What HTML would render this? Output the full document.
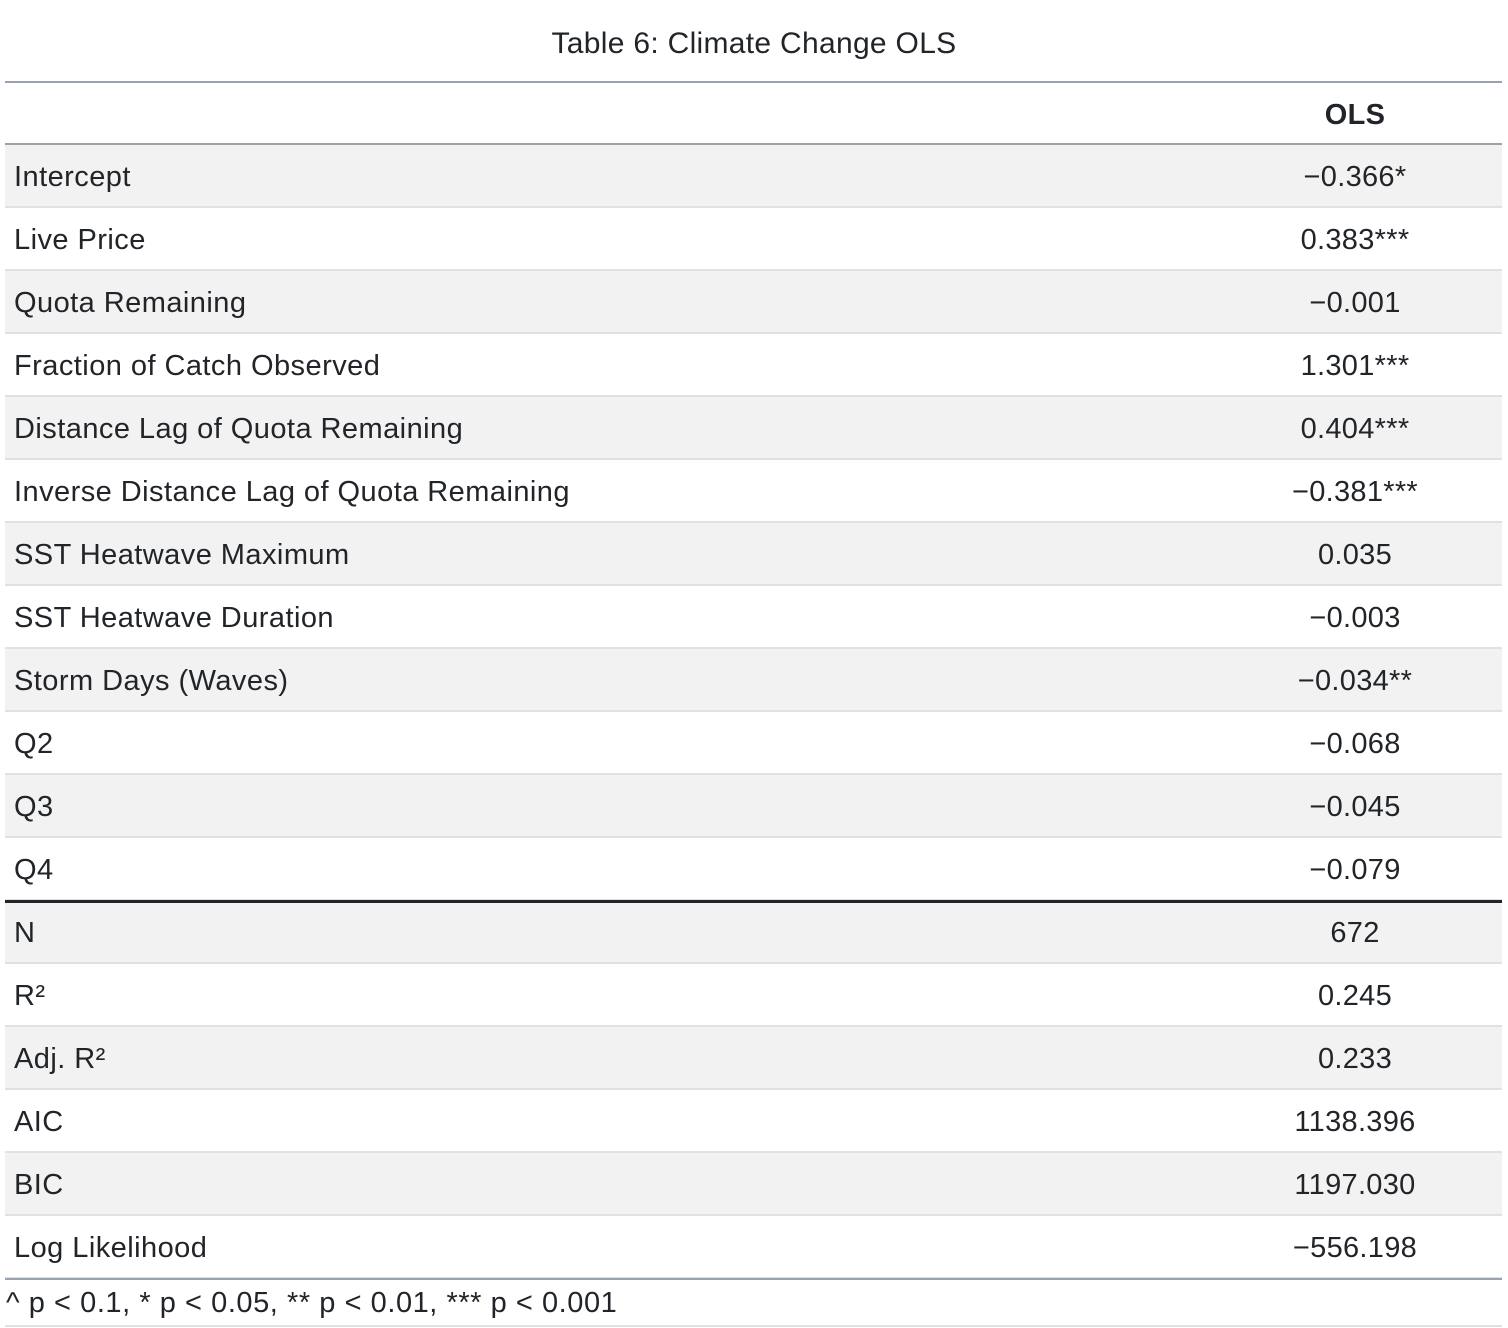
<!DOCTYPE html>
<html><head><meta charset="utf-8"><style>
body{margin:0;width:1508px;height:1328px;background:#fff;font-family:"Liberation Sans",sans-serif;color:#212529;position:relative;overflow:hidden}
.t{position:absolute;left:0;width:1508px;top:25px;text-align:center;font-size:30px;line-height:38px;letter-spacing:0.3px}
.r{position:absolute;left:5px;width:1497px;height:63px;box-sizing:border-box;border-bottom:2px solid #dee2e6}
.r.g{background:#f2f2f2}
.l{position:absolute;left:9px;top:1px;line-height:63px;font-size:29px;letter-spacing:0.45px}
.v{position:absolute;left:1240px;width:220px;text-align:center;top:1px;line-height:63px;font-size:29px;letter-spacing:0.3px}
.ln{position:absolute;left:5px;width:1497px}
</style></head><body>
<div class="t">Table 6: Climate Change OLS</div>
<div class="ln" style="top:81px;height:2px;background:#9aa3ad"></div>
<div class="r" style="top:83px;height:62px;border-bottom:2px solid #9aa3ad"><div class="v" style="font-weight:bold;line-height:62px">OLS</div></div>
<div id="rows"></div>
<div class="ln" style="top:900px;height:3px;background:#212529"></div>
<div class="ln" style="top:1278px;height:2px;background:#9aa3ad"></div>
<div style="position:absolute;left:6px;top:1285px;font-size:29px;line-height:36px;letter-spacing:0.55px">^ p &lt; 0.1, * p &lt; 0.05, ** p &lt; 0.01, *** p &lt; 0.001</div>
<div class="ln" style="top:1325px;height:2px;background:#dee2e6"></div>
<script>
const labels=["Intercept","Live Price","Quota Remaining","Fraction of Catch Observed","Distance Lag of Quota Remaining","Inverse Distance Lag of Quota Remaining","SST Heatwave Maximum","SST Heatwave Duration","Storm Days (Waves)","Q2","Q3","Q4","N","R²","Adj. R²","AIC","BIC","Log Likelihood"];
const values=["−0.366*","0.383***","−0.001","1.301***","0.404***","−0.381***","0.035","−0.003","−0.034**","−0.068","−0.045","−0.079","672","0.245","0.233","1138.396","1197.030","−556.198"];
const c=document.getElementById('rows');
labels.forEach((lab,i)=>{
 const r=document.createElement('div');
 r.className='r'+((i<12?i%2===0:(i-12)%2===0)?' g':'');
 r.style.top=(145+63*i)+'px';
 
 
 const l=document.createElement('div');l.className='l';l.textContent=lab;
 
 
 const v=document.createElement('div');v.className='v';v.textContent=values[i];
 
 
 r.appendChild(l);r.appendChild(v);c.appendChild(r);
});
</script>
</body></html>
